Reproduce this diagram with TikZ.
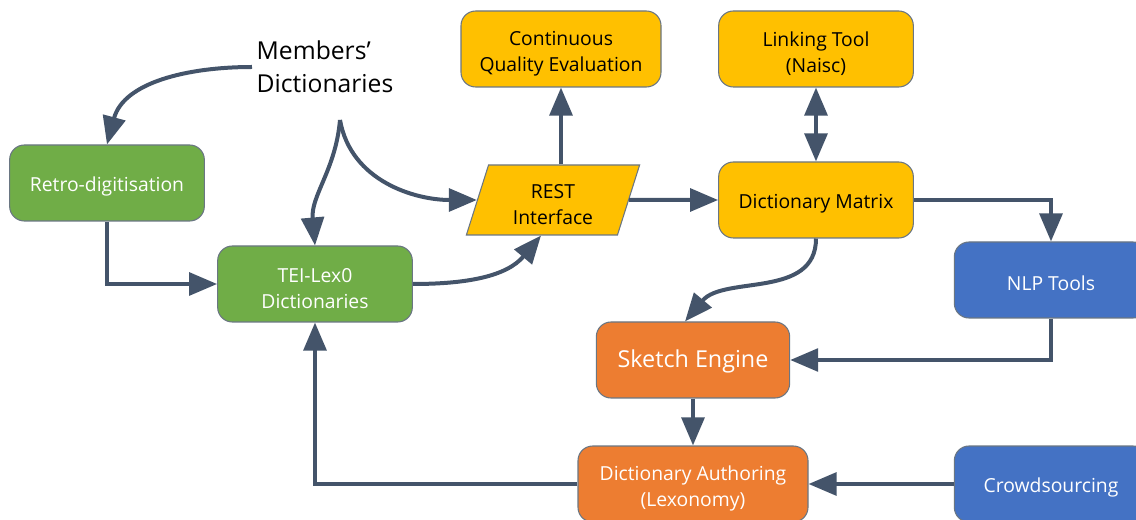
\documentclass[tikz,border=0pt]{standalone}
\usepackage{fontspec}
\setmainfont{Open Sans}
\usepackage{tikz}
\usetikzlibrary{arrows.meta,shapes.geometric}
\definecolor{flowc}{HTML}{44546A}
\definecolor{edgec}{HTML}{6A7683}
\definecolor{greenc}{HTML}{70AD47}
\definecolor{yellowc}{HTML}{FFC000}
\definecolor{orangec}{HTML}{ED7D31}
\definecolor{bluec}{HTML}{4472C4}
\tikzset{
  box/.style={draw=edgec, line width=0.8pt, rounded corners=11pt, align=center,
    minimum width=146pt, minimum height=57pt, inner sep=2pt,
    font=\fontsize{14.5}{19.5}\selectfont,
    execute at begin node={\rule{0pt}{15.5pt}}},
  twoline/.style={execute at begin node={\rule{0pt}{37pt}}},
  greenbox/.style={box, fill=greenc, text=white},
  yellowbox/.style={box, fill=yellowc, text=black},
  orangebox/.style={box, fill=orangec, text=white},
  bluebox/.style={box, fill=bluec, text=white},
  flow/.style={draw=flowc, line width=3pt, -{Triangle[length=21pt,width=17pt]}},
}
\begin{document}
\begin{tikzpicture}[x=0.75pt,y=-0.75pt]
\useasboundingbox (0,0) rectangle (1136,520);
\clip (0,0) rectangle (1136,520);
% boxes
\node[greenbox] (retro) at (107,183) {Retro-digitisation};
\node[greenbox, twoline] (tei) at (315,284) {TEI-Lex0\\Dictionaries};
\node[yellowbox, twoline, minimum width=150pt] (cqe) at (561,49) {Continuous\\Quality Evaluation};
\node[yellowbox, twoline] (link) at (816,49) {Linking Tool\\(Naisc)};
\node[yellowbox, twoline, rounded corners=0pt, trapezium, trapezium stretches=true,
  trapezium left angle=75, trapezium right angle=105,
  minimum width=130pt, minimum height=52.5pt] (rest) at (553,200) {REST\\Interface};
\node[yellowbox] (dm) at (816,200) {Dictionary Matrix};
\node[bluebox, minimum width=145pt] (nlp) at (1051,280) {NLP Tools};
\node[orangebox, minimum width=145pt, font=\fontsize{17.5}{21}\selectfont] (sketch) at (693,360) {Sketch Engine};
\node[orangebox, twoline, minimum width=172.5pt] (da) at (693,484) {Dictionary Authoring\\(Lexonomy)};
\node[bluebox, minimum width=145pt] (crowd) at (1051,484) {Crowdsourcing};
\node[align=left, font=\fontsize{18.5}{24.75}\selectfont] (members) at (325,67) {Members’\\Dictionaries};
\coordinate (split) at (340,120);
% connectors
\draw[flow] (members.west) to[out=180,in=75] (retro.north);
\draw[flow] (split) to[out=-95,in=95] (tei.north);
\draw[flow] (split) to[out=-80,in=180] (rest.west);
\draw[flow] (retro.south) |- (tei.west);
\draw[flow] (tei.east) to[out=0,in=230] ([xshift=-9pt]rest.south);
\draw[flow] (rest.north -| cqe.south) -- (cqe.south);
\draw[flow] (rest.east) -- (dm.west);
\draw[flow, {Triangle[length=21pt,width=17pt]}-{Triangle[length=21pt,width=17pt]}] (link.south) -- (dm.north);
\draw[flow] (dm.east) -| (nlp.north);
\draw[flow] (dm.south) to[out=-90,in=50] ([xshift=-6pt]sketch.north);
\draw[flow] (nlp.south) |- (sketch.east);
\draw[flow] (sketch.south) -- (da.north);
\draw[flow] (crowd.west) -- (da.east);
\draw[flow] (da.west) -| (tei.south);
\end{tikzpicture}
\end{document}
